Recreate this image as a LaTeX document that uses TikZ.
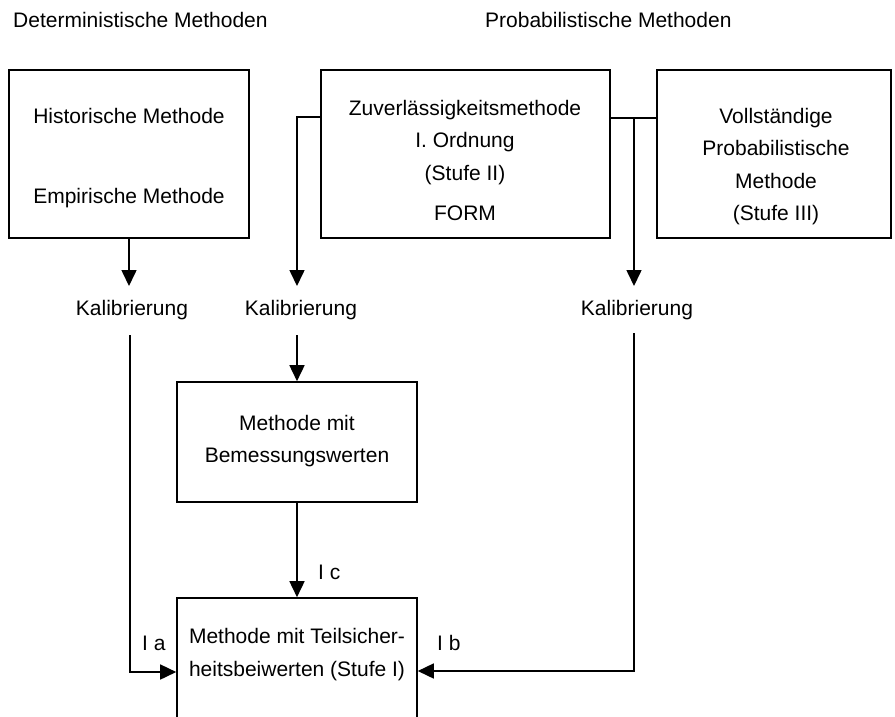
\documentclass[tikz,border=0pt]{standalone}
\usepackage{fontspec}
\setmainfont{Liberation Sans}
\usetikzlibrary{arrows.meta}
\begin{document}
\begin{tikzpicture}[x=1pt,y=-1pt,
  box/.style={draw,line width=1.6pt,inner sep=0pt},
  txt/.style={font=\fontsize{21}{25}\selectfont,anchor=base,inner sep=0pt},
  conn/.style={line width=1.6pt},
  arr/.style={line width=1.6pt,-{Triangle[width=15pt,length=16pt]}}]
\clip (0,0) rectangle (895,716);
\fill[white] (0,0) rectangle (895,716);
% top labels
\node[txt,anchor=base west] (det) at (13,27) {Deterministische Methoden};
\node[txt,anchor=base west] (prob) at (485,27) {Probabilistische Methoden};
% boxes
\node[box,minimum width=240pt,minimum height=168pt] (A) at (129,154) {};
\node[box,minimum width=289pt,minimum height=168pt] (B) at (465.5,154) {};
\node[box,minimum width=234pt,minimum height=168pt] (C) at (774,154) {};
\node[box,minimum width=240pt,minimum height=120pt] (D) at (297,442) {};
\node[box,minimum width=240pt,minimum height=170pt] (E) at (297,683) {};
% box texts
\node[txt] (a1) at (129,123) {Historische Methode};
\node[txt] (a2) at (129,203) {Empirische Methode};
\node[txt] (b1) at (465,115) {Zuverlässigkeitsmethode};
\node[txt] (b2) at (465,147) {I. Ordnung};
\node[txt] (b3) at (465,180) {(Stufe II)};
\node[txt] (b4) at (465,220) {FORM};
\node[txt] (c1) at (776,123) {Vollständige};
\node[txt] (c2) at (776,155) {Probabilistische};
\node[txt] (c3) at (776,188) {Methode};
\node[txt] (c4) at (776,220) {(Stufe III)};
\node[txt] (d1) at (297,430) {Methode mit};
\node[txt] (d2) at (297,462) {Bemessungswerten};
\node[txt] (e1) at (297,643) {Methode mit Teilsicher-};
\node[txt] (e2) at (297,676) {heitsbeiwerten (Stufe I)};
% Kalibrierung
\node[txt] (k1) at (132,315) {Kalibrierung};
\node[txt] (k2) at (301,315) {Kalibrierung};
\node[txt] (k3) at (637,315) {Kalibrierung};
% small labels
\node[txt,anchor=base west] (la) at (142,650) {I a};
\node[txt,anchor=base west] (lb) at (437,650) {I b};
\node[txt,anchor=base west] (lc) at (318,579) {I c};
% connectors
\coordinate (ka) at (129,286);
\coordinate (kb) at (297,286);
\coordinate (kc) at (634,286);
\coordinate (br) at (634,118);
\draw[arr] (A.south -| ka) -- (ka);
\draw[arr] (B.west |- 0,117) -| (kb);
\draw[conn] (B.east |- br) -- (C.west |- br);
\draw[arr] (br) -- (kc);
\draw[arr] (297,335) -- (D.north);
\draw[arr] (D.south) -- (E.north);
\draw[arr] (130,335) |- (E.west |- 0,672);
\draw[arr] (634,333) |- (E.east |- 0,671);
\end{tikzpicture}
\end{document}
